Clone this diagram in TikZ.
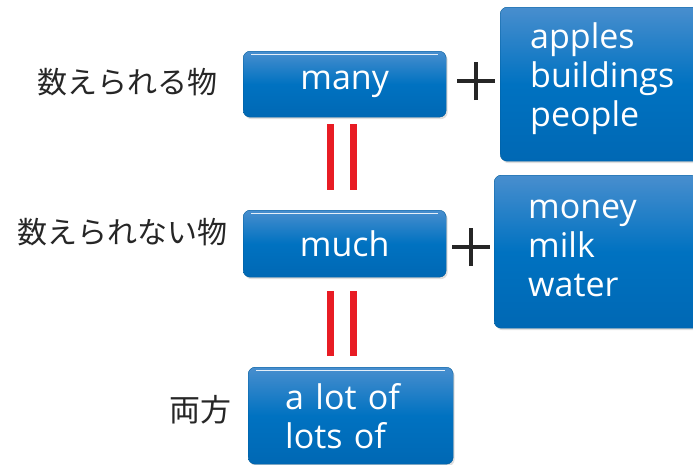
\documentclass[tikz,border=0pt]{standalone}
\usepackage{fontspec}
\newfontfamily\boxfont{Open Sans}
\newfontfamily\jpfont{Noto Sans CJK JP}
\usetikzlibrary{shadows}
\definecolor{btop}{RGB}{72,142,206}
\definecolor{bmid}{RGB}{0,114,193}
\definecolor{bbot}{RGB}{0,104,180}
\definecolor{barred}{RGB}{232,28,36}
\newcommand{\lines}[2]{\raisebox{#1}[\height][\depth]{\begin{tabular}{@{}l@{}}#2\end{tabular}}}
\tikzset{
  bluebox/.style={rounded corners=7pt, top color=btop, bottom color=bbot, middle color=bmid,
    draw=bmid!80!black, line width=0.4pt, text=white, inner sep=0pt,
    font=\boxfont\fontsize{34}{39}\selectfont,
    drop shadow={shadow xshift=1.5pt, shadow yshift=-2pt, opacity=0.25}},
  jplabel/.style={font=\jpfont\fontsize{30}{36}\selectfont, text=black!85, inner sep=0pt},
  eqbar/.style={draw=barred, line width=7pt},
  plusbar/.style={draw=black!85, line width=3.8pt},
  hilite/.style={draw=white!85!btop, line width=1pt}
}
\begin{document}
\begin{tikzpicture}[x=1pt,y=-1pt]
\useasboundingbox (0,0) rectangle (693,464);
\clip (0,0) rectangle (693,464);
% boxes
\node[bluebox, minimum width=203, minimum height=66, anchor=north west] (many) at (243,51) {\raisebox{-2pt}{many}};
\node[bluebox, minimum width=203, minimum height=67, anchor=north west] (much) at (243,210) {much};
\node[bluebox, minimum width=205, minimum height=97, anchor=north west, text width=205, align=left] (lot) at (248,367) {\hspace*{37pt}\lines{-5pt}{a lot of\\lots of}};
\node[bluebox, minimum width=200, minimum height=154, anchor=north west, text width=200, align=left] (cnt) at (500,7) {\hspace*{30pt}\lines{5pt}{apples\\buildings\\people}};
\node[bluebox, minimum width=205, minimum height=153, anchor=north west, text width=205, align=left] (unc) at (494,175) {\hspace*{34pt}\lines{2pt}{money\\milk\\water}};
% highlights
\draw[hilite] ([xshift=8pt,yshift=-3pt]many.north west) -- ([xshift=-8pt,yshift=-3pt]many.north east);
\draw[hilite] ([xshift=8pt,yshift=-3pt]much.north west) -- ([xshift=-8pt,yshift=-3pt]much.north east);
\draw[hilite] ([xshift=8pt,yshift=-3pt]lot.north west) -- ([xshift=-8pt,yshift=-3pt]lot.north east);
% labels
\node[jplabel, anchor=east] (l1) at (218,82) {数えられる物};
\node[jplabel, anchor=east] (l2) at (228,232) {数えられない物};
\node[jplabel, anchor=east, font=\jpfont\fontsize{31}{36}\selectfont] (l3) at (232,410) {両方};
% equals bars
\coordinate (e1a) at (330.5,124); \coordinate (e1b) at (330.5,190);
\coordinate (e2a) at (353.5,124); \coordinate (e2b) at (353.5,190);
\coordinate (e3a) at (330.5,291); \coordinate (e3b) at (330.5,356);
\coordinate (e4a) at (353.5,291); \coordinate (e4b) at (353.5,356);
\draw[eqbar] (e1a) -- (e1b);
\draw[eqbar] (e2a) -- (e2b);
\draw[eqbar] (e3a) -- (e3b);
\draw[eqbar] (e4a) -- (e4b);
% plus signs
\coordinate (p1) at (476,81);
\coordinate (p2) at (471,247);
\draw[plusbar] ([xshift=-19pt]p1) -- ([xshift=19pt]p1);
\draw[plusbar] ([yshift=-19pt]p1) -- ([yshift=19pt]p1);
\draw[plusbar] ([xshift=-19pt]p2) -- ([xshift=19pt]p2);
\draw[plusbar] ([yshift=-19pt]p2) -- ([yshift=19pt]p2);
\end{tikzpicture}
\end{document}
